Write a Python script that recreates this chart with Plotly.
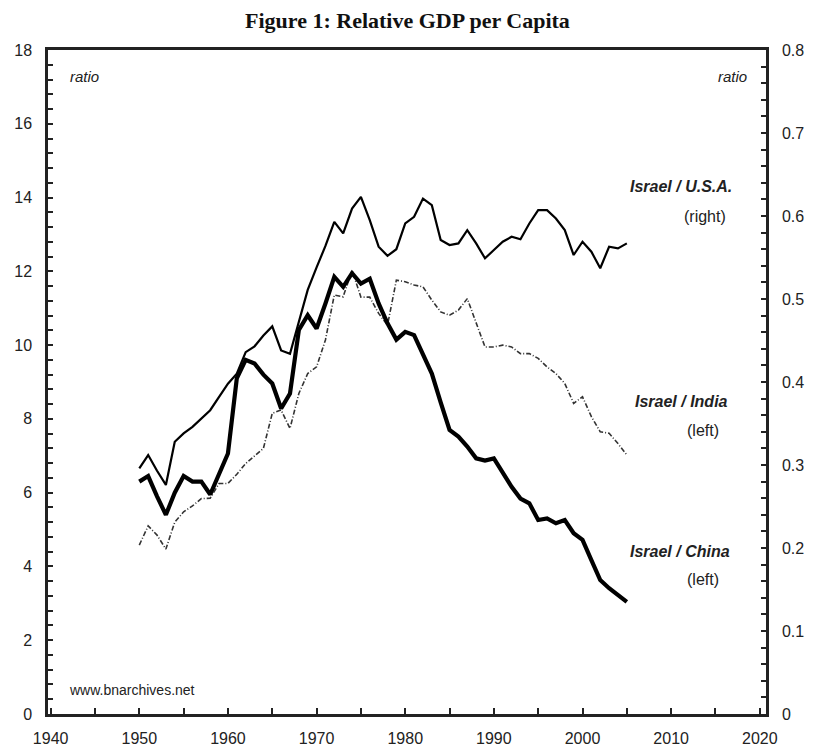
import plotly.graph_objects as go

years = list(range(1950, 2006))

# Israel / U.S.A. (right axis)
usa = [0.296, 0.312, 0.293, 0.276, 0.328, 0.338, 0.346, 0.356, 0.366, 0.382,
       0.398, 0.410, 0.436, 0.443, 0.456, 0.467, 0.438, 0.434, 0.471, 0.511,
       0.538, 0.564, 0.593, 0.579, 0.609, 0.623, 0.595, 0.563, 0.552, 0.560,
       0.591, 0.599, 0.621, 0.613, 0.571, 0.565, 0.567, 0.583, 0.567, 0.549,
       0.559, 0.569, 0.575, 0.572, 0.591, 0.607, 0.607, 0.597, 0.583, 0.553,
       0.569, 0.557, 0.537, 0.563, 0.561, 0.567]

# Israel / China (left axis)
china = [6.30, 6.45, 5.90, 5.40, 6.00, 6.45, 6.30, 6.30, 5.95, 6.50,
         7.06, 9.10, 9.60, 9.50, 9.20, 8.96, 8.28, 8.69, 10.41, 10.81,
         10.45, 11.13, 11.85, 11.58, 11.95, 11.67, 11.80, 11.13, 10.59, 10.15,
         10.36, 10.27, 9.77, 9.23, 8.45, 7.70, 7.52, 7.25, 6.93, 6.87,
         6.93, 6.52, 6.16, 5.84, 5.71, 5.26, 5.30, 5.17, 5.26, 4.90,
         4.72, 4.17, 3.63, 3.41, 3.22, 3.04]

# Israel / India (left axis)
india = [4.58, 5.10, 4.85, 4.47, 5.20, 5.48, 5.64, 5.84, 5.85, 6.25,
         6.25, 6.50, 6.79, 7.00, 7.20, 8.15, 8.24, 7.74, 8.69, 9.23,
         9.41, 10.14, 11.36, 11.31, 12.03, 11.30, 11.30, 10.86, 10.54, 11.76,
         11.72, 11.63, 11.58, 11.22, 10.90, 10.81, 10.95, 11.26, 10.59, 9.95,
         9.95, 10.00, 9.95, 9.77, 9.77, 9.64, 9.41, 9.23, 8.96, 8.42,
         8.60, 8.06, 7.65, 7.61, 7.33, 7.02]

x_ticks = [1940, 1950, 1960, 1970, 1980, 1990, 2000, 2010, 2020]
left_ticks = [0, 2, 4, 6, 8, 10, 12, 14, 16, 18]
right_ticks = [0, 0.1, 0.2, 0.3, 0.4, 0.5, 0.6, 0.7, 0.8]

# window coordinates; the page body adds an 8px offset
OFF = 8
WIN_W, WIN_H = 813, 755
W, H = WIN_W - OFF, WIN_H - OFF
L, R, T, B = 48, 766, 50, 714   # plot area in window pixels

fig = go.Figure()
fig.add_trace(go.Scatter(x=years, y=india, mode="lines",
                         line=dict(color="#333333", width=1.6, dash="5px,2px,1px,2px"),
                         yaxis="y", showlegend=False))
fig.add_trace(go.Scatter(x=years, y=china, mode="lines",
                         line=dict(color="#000000", width=4.2),
                         yaxis="y", showlegend=False))
fig.add_trace(go.Scatter(x=years, y=usa, mode="lines",
                         line=dict(color="#000000", width=2.2),
                         yaxis="y2", showlegend=False))

tickfont = dict(family="Liberation Sans, Arial, sans-serif", size=16, color="#222222")

fig.update_layout(
    width=W, height=H,
    margin=dict(l=L - OFF, r=WIN_W - R, t=T - OFF, b=WIN_H - B, pad=0),
    paper_bgcolor="white", plot_bgcolor="white",
    xaxis=dict(range=[1939.7, 2020.7], tickmode="array", tickvals=x_ticks,
               ticktext=[str(v) for v in x_ticks], automargin=False,
               ticks="inside", ticklen=6, tickwidth=2, tickcolor="#222",
               minor=dict(ticks="inside", dtick=5, tick0=1940, ticklen=6, tickwidth=2, tickcolor="#222"),
               showline=True, linecolor="#222", linewidth=2.5, mirror=True,
               showgrid=False, zeroline=False, tickfont=tickfont, ticklabelstandoff=8),
    yaxis=dict(range=[0, 18], tickmode="array", tickvals=left_ticks,
               ticktext=[str(v) for v in left_ticks], automargin=False,
               ticks="inside", ticklen=5, tickwidth=2, tickcolor="#222",
               minor=dict(ticks="inside", dtick=0.4, tick0=0, ticklen=5, tickwidth=2, tickcolor="#222"),
               showline=True, linecolor="#222", linewidth=2.5,
               showgrid=False, zeroline=False, tickfont=tickfont, ticklabelstandoff=10),
    yaxis2=dict(range=[0, 0.8], overlaying="y", side="right", tickmode="array", automargin=False,
                tickvals=right_ticks, ticktext=["0", "0.1", "0.2", "0.3", "0.4", "0.5", "0.6", "0.7", "0.8"],
                ticks="inside", ticklen=5, tickwidth=2, tickcolor="#222",
                minor=dict(ticks="inside", dtick=0.02, tick0=0, ticklen=5, tickwidth=2, tickcolor="#222"),
                showline=True, linecolor="#222", linewidth=2.5,
                showgrid=False, zeroline=False, tickfont=tickfont, ticklabelstandoff=10),
)

def dom_ann(x, y, text, size=15, xanchor="center", family="Liberation Sans, Arial, sans-serif", color="#222"):
    fig.add_annotation(x=(x - L) / (R - L), y=(B - y) / (B - T), xref="paper", yref="paper", text=text,
                       showarrow=False, xanchor=xanchor, yanchor="middle",
                       font=dict(family=family, size=size, color=color))

dom_ann(407, 20, "<b>Figure 1: Relative GDP per Capita</b>", size=22,
        family="Liberation Serif, Times New Roman, serif", color="#111")
dom_ann(68, 76, "<i>ratio</i>", size=15, xanchor="left")
dom_ann(749, 76, "<i>ratio</i>", size=15, xanchor="right")
dom_ann(681, 186, "<b><i>Israel / U.S.A.</i></b>", size=16)
dom_ann(705, 216, "(right)", size=16)
dom_ann(681, 401, "<b><i>Israel / India</i></b>", size=16)
dom_ann(703, 430, "(left)", size=16)
dom_ann(680, 551, "<b><i>Israel / China</i></b>", size=16)
dom_ann(703, 579, "(left)", size=16)
dom_ann(67, 690, "www.bnarchives.net", size=14, xanchor="left")

fig.write_html("out.html")
